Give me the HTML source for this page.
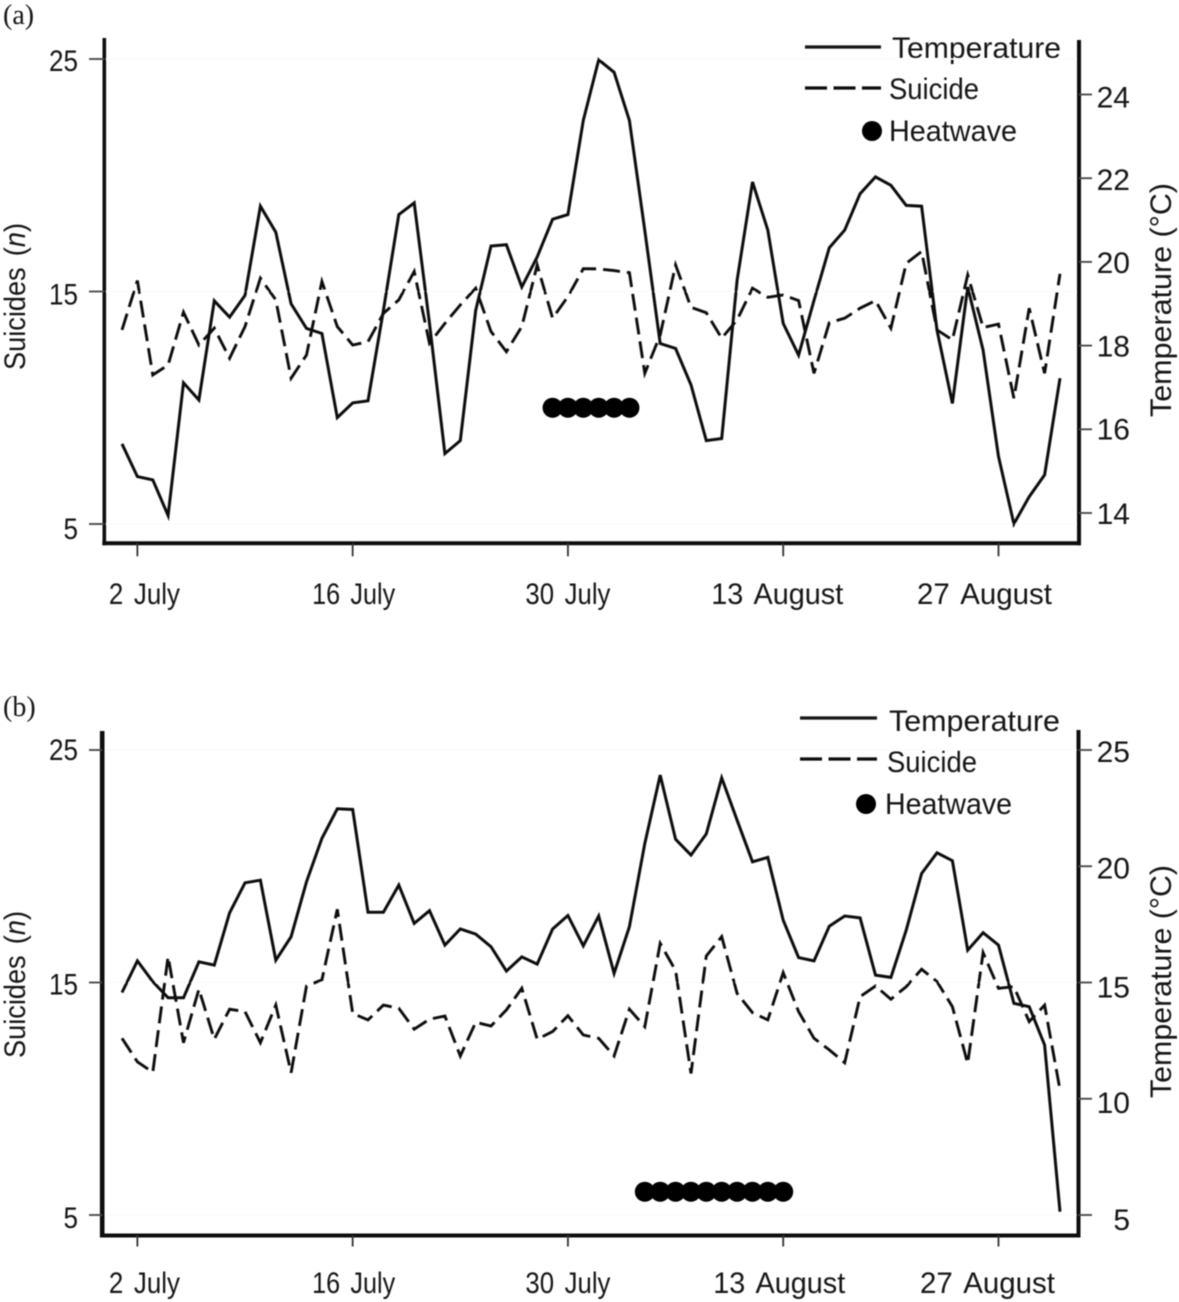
<!DOCTYPE html>
<html lang="en">
<head>
<meta charset="utf-8">
<title>Suicides and temperature during heatwaves</title>
<style>
  html, body { margin: 0; padding: 0; background: #fff; }
  svg { display: block; }
  text { font-family: "Liberation Sans", sans-serif; fill: #141414; }
  .label { font-size: 30px; }
  .panel-tag { font-family: "Liberation Serif", serif; font-size: 28px; }
</style>
</head>
<body>
<svg id="figure" xmlns="http://www.w3.org/2000/svg" width="1179" height="1302" viewBox="0 0 1179 1302">
  <defs><filter id="soft" x="0" y="0" width="100%" height="100%"><feGaussianBlur stdDeviation="0.5"/></filter></defs>
  <rect width="1179" height="1302" fill="#fff"/>
  <g id="art" filter="url(#soft)">
    <text class="panel-tag" x="3" y="24">(a)</text>
    <text class="panel-tag" x="3" y="716">(b)</text>

    <text class="label" transform="translate(25,370) rotate(-90)" word-spacing="4" textLength="147" lengthAdjust="spacingAndGlyphs">Suicides (<tspan font-style="italic">n</tspan>)</text>
    <text class="label" transform="translate(1171,417) rotate(-90)" textLength="234" lengthAdjust="spacingAndGlyphs">Temperature (°C)</text>
    <text class="label" transform="translate(25,1058) rotate(-90)" word-spacing="4" textLength="147" lengthAdjust="spacingAndGlyphs">Suicides (<tspan font-style="italic">n</tspan>)</text>
    <text class="label" transform="translate(1171,1098) rotate(-90)" textLength="233" lengthAdjust="spacingAndGlyphs">Temperature (°C)</text>

    <g>
      <line x1="805" x2="881" y1="47" y2="47" stroke="#161616" stroke-width="3.2"/>
      <text class="label" x="892" y="58" textLength="169" lengthAdjust="spacingAndGlyphs">Temperature</text>
      <line x1="805" x2="881" y1="88" y2="88" stroke="#111" stroke-width="3.2" stroke-dasharray="22 6.5"/>
      <text class="label" x="889" y="99" textLength="90" lengthAdjust="spacingAndGlyphs">Suicide</text>
      <circle cx="872" cy="131" r="10" fill="#000"/>
      <text class="label" x="889" y="141" textLength="128" lengthAdjust="spacingAndGlyphs">Heatwave</text>
    </g>
    <g>
      <line x1="800" x2="877" y1="718" y2="718" stroke="#161616" stroke-width="3.2"/>
      <text class="label" x="889" y="731" textLength="171" lengthAdjust="spacingAndGlyphs">Temperature</text>
      <line x1="800" x2="877" y1="759" y2="759" stroke="#111" stroke-width="3.2" stroke-dasharray="22 6.5"/>
      <text class="label" x="887" y="772" textLength="90" lengthAdjust="spacingAndGlyphs">Suicide</text>
      <circle cx="866" cy="804" r="10" fill="#000"/>
      <text class="label" x="885" y="814" textLength="127" lengthAdjust="spacingAndGlyphs">Heatwave</text>
    </g>
  </g>
</svg>
<script>
// Categories: day number counted from 1 July (day 1) to 31 August (day 62)
const days = [1,2,3,4,5,6,7,8,9,10,11,12,13,14,15,16,17,18,19,20,21,22,23,24,25,26,27,28,29,30,31,32,33,34,35,36,37,38,39,40,41,42,43,44,45,46,47,48,49,50,51,52,53,54,55,56,57,58,59,60,61,62];
const xTickDays = [2,16,30,44,58];
const xTickLabels = ["2 July","16 July","30 July","13 August","27 August"];
const suicideTicks = [5,15,25];

const temperatureA = [15.65,14.87,14.79,13.94,17.11,16.70,19.07,18.68,19.20,21.33,20.71,19.00,18.41,18.29,16.28,16.63,16.68,18.84,21.13,21.41,18.53,15.42,15.73,18.84,20.38,20.41,19.40,20.12,21.02,21.13,23.38,24.83,24.53,23.38,20.75,18.05,17.93,17.06,15.73,15.78,19.56,21.91,20.76,18.53,17.77,19.08,20.34,20.76,21.63,22.03,21.83,21.35,21.33,18.37,16.62,19.40,17.89,15.35,13.74,14.39,14.91,17.22];
const suicideA = [13.35,15.47,11.41,11.84,14.11,12.70,13.42,12.13,13.49,15.57,14.64,11.27,12.27,15.43,13.49,12.70,12.84,14.06,14.64,15.86,12.77,13.63,14.42,15.14,13.28,12.41,13.49,16.14,13.85,14.78,15.98,15.97,15.90,15.81,11.48,13.13,16.14,14.32,14.09,12.99,13.78,15.14,14.75,14.85,14.61,11.48,13.66,13.85,14.28,14.61,13.42,16.21,16.72,13.35,12.92,15.71,13.45,13.60,10.41,14.28,11.48,15.76];
const heatwaveDaysA = [29,30,31,32,33,34];
const heatwaveLevelA = 10;
const temperatureTicksA = [14,16,18,20,22,24];

const temperatureB = [14.57,15.93,15.04,14.34,14.34,15.89,15.75,18.00,19.29,19.40,15.96,16.97,19.33,21.20,22.47,22.44,18.02,18.02,19.19,17.54,18.09,16.61,17.30,17.08,16.54,15.49,16.10,15.79,17.30,17.88,16.58,17.86,15.39,17.40,20.98,23.92,21.16,20.48,21.39,23.80,21.98,20.19,20.38,17.68,16.07,15.93,17.42,17.86,17.78,15.32,15.22,17.25,19.69,20.58,20.24,16.39,17.14,16.61,14.10,13.96,12.31,5.14];
const suicideB = [12.60,11.59,11.14,16.11,12.41,14.71,12.56,13.85,13.75,12.41,14.03,11.12,14.85,15.11,18.15,13.67,13.39,14.03,13.89,12.99,13.42,13.56,11.84,13.29,13.13,13.82,14.75,12.56,12.89,13.57,12.74,12.60,11.84,13.85,13.10,16.68,15.51,11.09,16.14,16.97,14.53,13.70,13.39,15.42,13.75,12.60,12.10,11.55,14.39,14.85,14.28,14.82,15.57,15.04,13.96,11.52,16.28,14.75,14.82,13.32,14.03,10.38];
const heatwaveDaysB = [35,36,37,38,39,40,41,42,43,44];
const heatwaveLevelB = 6;
const temperatureTicksB = [5,10,15,20,25];

const NS = "http://www.w3.org/2000/svg";
const art = document.getElementById("art");

function make(tag, attrs, parent) {
  const el = document.createElementNS(NS, tag);
  for (const k in attrs) el.setAttribute(k, attrs[k]);
  parent.appendChild(el);
  return el;
}
function linear(d0, d1, r0, r1) {
  return v => r0 + (v - d0) * (r1 - r0) / (d1 - d0);
}
const xScale = linear(1, 62, 122, 1060);

function drawPanel(p) {
  const yLeft = linear(5, 25, p.leftY5, p.leftY25);
  const yRight = linear(p.rightLo, p.rightHi, p.rightYLo, p.rightYHi);

  const group = make("g", {}, art);
  
  

  // faint reference lines
  suicideTicks.forEach(t => {
    const g = make("line", {x1: 106, x2: 1076, y1: yLeft(t), y2: yLeft(t), stroke: "#f8f8f8", "stroke-width": 1}, group);
    
    
  });

  // axes frame
  const spineLeft = make("line", {x1: p.leftX, x2: p.leftX, y1: p.top, y2: p.bottom + 2, stroke: "#0c0c0c", "stroke-width": p.leftW}, group);
  
  
  const spineBottom = make("line", {x1: p.leftX - 2, x2: p.rightX + 2, y1: p.bottom, y2: p.bottom, stroke: "#111", "stroke-width": 4}, group);
  
  
  const spineRight = make("line", {x1: p.rightX, x2: p.rightX, y1: p.rightTop, y2: p.bottom + 2, stroke: "#0c0c0c", "stroke-width": 4}, group);
  
  

  // left ticks
  suicideTicks.forEach((t, i) => {
    const y = yLeft(t);
    const tick = make("line", {x1: 89, x2: p.leftX, y1: y, y2: y, stroke: "#444", "stroke-width": 1.8}, group);
    
    
    const label = make("text", {class: "label", x: 78, y: y + p.leftLabelDy[i], "text-anchor": "end", textLength: String(t).length * 14.5, lengthAdjust: "spacingAndGlyphs"}, group);
    
    
    label.textContent = t;
  });

  // right ticks
  p.rightTicks.forEach((t, i) => {
    const y = yRight(t);
    const tick = make("line", {x1: p.rightX, x2: 1092, y1: y, y2: y, stroke: "#444", "stroke-width": 1.8}, group);
    
    
    const label = make("text", {class: "label", x: 1130, y: y + p.rightLabelDy[i], "text-anchor": "end"}, group);
    
    
    label.textContent = t;
  });

  // x ticks
  xTickDays.forEach((d, i) => {
    const x = xScale(d);
    const tick = make("line", {x1: x, x2: x, y1: p.bottom, y2: p.bottom + p.xTickLen, stroke: "#333", "stroke-width": 1.8}, group);
    
    
    const label = make("text", {class: "label", x: x + p.labelNudge[i], y: p.labelY, "text-anchor": "middle", "word-spacing": 4, textLength: p.labelWidth[i], lengthAdjust: "spacingAndGlyphs"}, group);
    
    
    label.textContent = xTickLabels[i];
  });

  // temperature series (right axis)
  const tempLine = make("polyline", {
    points: days.map((d, i) => xScale(d).toFixed(1) + "," + yRight(p.temperature[i]).toFixed(1)).join(" "),
    fill: "none", stroke: "#111", "stroke-width": 3, "stroke-linejoin": "miter"
  }, group);
  
  

  // suicide series (left axis)
  const suicideLine = make("polyline", {
    points: days.map((d, i) => xScale(d).toFixed(1) + "," + yLeft(p.suicide[i]).toFixed(1)).join(" "),
    fill: "none", stroke: "#111", "stroke-width": 2.9, "stroke-dasharray": "17 7", "stroke-linejoin": "miter"
  }, group);
  
  

  // heatwave markers
  p.heatwaveDays.forEach(d => {
    const dot = make("circle", {cx: xScale(d), cy: yLeft(p.heatwaveLevel), r: 10, fill: "#000"}, group);
    
    
  });
}

drawPanel({
  name: "panel-a", temperature: temperatureA, suicide: suicideA,
  heatwaveDays: heatwaveDaysA, heatwaveLevel: heatwaveLevelA, rightTicks: temperatureTicksA,
  leftY5: 524, leftY25: 59, rightLo: 14, rightHi: 24, rightYLo: 513, rightYHi: 94.5,
  leftX: 104.3, leftW: 3.6, rightX: 1079, top: 38, rightTop: 40, bottom: 543.3, labelY: 604, xTickLen: 13,
  leftLabelDy: [15, 13, 12], rightLabelDy: [11, 10, 11, 11, 12, 13],
  labelNudge: [7, 1, 0, -6, -14], labelWidth: [71, 83, 85, 132, 135]
});
drawPanel({
  name: "panel-b", temperature: temperatureB, suicide: suicideB,
  heatwaveDays: heatwaveDaysB, heatwaveLevel: heatwaveLevelB, rightTicks: temperatureTicksB,
  leftY5: 1215, leftY25: 750, rightLo: 5, rightHi: 25, rightYLo: 1215, rightYHi: 750,
  leftX: 102.2, leftW: 4.6, rightX: 1078.5, top: 731, rightTop: 730, bottom: 1235.5, labelY: 1293, xTickLen: 11,
  leftLabelDy: [13, 12, 10], rightLabelDy: [15, 14, 15, 12, 12],
  labelNudge: [7, 1, 0, -4, -11], labelWidth: [71, 83, 85, 132, 135]
});
</script>
</body>
</html>
